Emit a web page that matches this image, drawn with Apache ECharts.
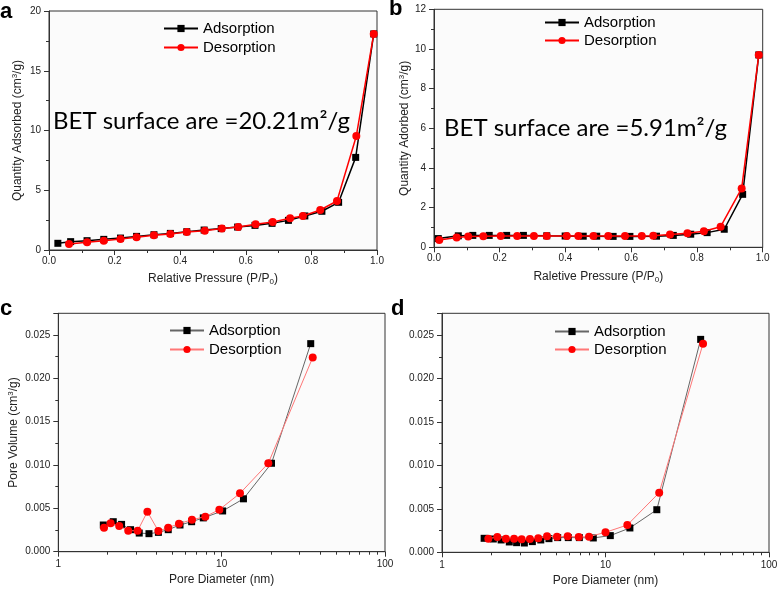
<!DOCTYPE html>
<html><head><meta charset="utf-8">
<script src="https://cdn.jsdelivr.net/npm/echarts@6/dist/echarts.min.js"></script>
<style>html,body{margin:0;padding:0;background:#fff}#c{width:778px;height:592px}</style>
</head><body><div id="c"></div>
<script>
// Panel a: BET isotherm (sample 1)
const aAdsX = [0.027,0.066,0.116,0.167,0.218,0.267,0.32,0.37,0.42,0.473,0.525,0.575,0.628,0.68,0.73,0.78,0.832,0.883,0.935,0.99];
const aAdsY = [0.56,0.70,0.78,0.89,1.00,1.14,1.28,1.39,1.53,1.67,1.79,1.92,2.06,2.23,2.48,2.85,3.24,3.99,7.75,18.08];
const aDesX = [0.061,0.116,0.167,0.218,0.267,0.32,0.37,0.42,0.475,0.527,0.577,0.63,0.682,0.735,0.774,0.827,0.878,0.937,0.99];
const aDesY = [0.50,0.64,0.78,0.92,1.06,1.23,1.34,1.51,1.62,1.79,1.92,2.15,2.34,2.65,2.85,3.35,4.10,9.54,18.08];
// Panel b: BET isotherm (sample 2)
const bAdsX = [0.013,0.074,0.118,0.168,0.221,0.272,0.343,0.399,0.454,0.495,0.545,0.596,0.677,0.728,0.781,0.831,0.883,0.939,0.988];
const bAdsY = [0.44,0.58,0.60,0.60,0.60,0.60,0.58,0.57,0.56,0.56,0.55,0.55,0.56,0.60,0.66,0.74,0.91,2.67,9.70];
const bDesX = [0.016,0.069,0.104,0.15,0.203,0.253,0.304,0.343,0.404,0.439,0.485,0.53,0.581,0.632,0.667,0.718,0.771,0.821,0.872,0.936,0.988];
const bDesY = [0.37,0.50,0.54,0.56,0.57,0.57,0.57,0.57,0.57,0.57,0.57,0.57,0.57,0.57,0.58,0.64,0.71,0.81,1.04,2.97,9.70];
// Panel c: pore size distribution (sample 1)
const cAdsX = [1.886,2.17,2.44,2.77,3.13,3.59,4.1,4.71,5.56,6.55,7.72,10.14,13.6,20.2,35.1];
const cAdsY = [0.00308,0.00346,0.00315,0.00254,0.00215,0.00208,0.00223,0.00254,0.00308,0.00346,0.0039,0.0047,0.0061,0.0102,0.0240];
const cDesX = [1.905,2.09,2.36,2.68,3.06,3.51,4.1,4.71,5.48,6.58,7.94,9.68,12.95,19.3,36.1];
const cDesY = [0.00277,0.00327,0.00296,0.00242,0.00242,0.00462,0.00238,0.00277,0.00323,0.00369,0.00404,0.00485,0.00673,0.0102,0.0224];
// Panel d: pore size distribution (sample 2)
const dAdsX = [1.81,2.06,2.30,2.58,2.86,3.19,3.57,4.02,4.51,5.1,5.92,6.92,8.42,10.7,14.1,20.6,38.2];
const dAdsY = [0.00161,0.00153,0.00142,0.00119,0.00111,0.00107,0.00123,0.00142,0.00157,0.00169,0.00169,0.00169,0.00165,0.00192,0.0028,0.0049,0.0245];
const dDesX = [1.92,2.18,2.46,2.76,3.07,3.45,3.88,4.39,5.05,5.87,6.86,7.93,10.0,13.6,21.3,39.5];
const dDesY = [0.00157,0.00176,0.00157,0.00157,0.0015,0.00153,0.00161,0.00184,0.0018,0.00184,0.00176,0.0018,0.0023,0.00314,0.00686,0.0240];
// Tick labels / texts
const panelLetters = ['a','b','c','d'];
const betTexts = ['BET surface are =20.21m²/g','BET surface are =5.91m²/g'];
const logMinorTicks = [2,3,4,5,6,7,8,9,20,30,40,50,60,70,80,90];

const FONT = '"Liberation Sans", Arial, sans-serif';
const zip = (xs, ys) => xs.map((x, i) => [x, ys[i]]);

const grids = [
  {left: 49, top: 11, width: 328, height: 239},
  {left: 434, top: 9.3, width: 328.7, height: 238},
  {left: 58.3, top: 313.3, width: 326.7, height: 238.4},
  {left: 442, top: 313.3, width: 327, height: 239}
].map(g => Object.assign(g, {show: true, borderColor: '#333', borderWidth: 1, backgroundColor: '#fbfbfb', containLabel: false, outerBoundsMode: 'none'}));

const lbl = {fontSize: 10, color: '#222', fontFamily: FONT};
const tick = {show: true, inside: false, length: 5, lineStyle: {color: '#333'}};
const minor = {show: true, splitNumber: 2, length: 3, lineStyle: {color: '#333'}};
const axLine = {show: true, lineStyle: {color: '#333', width: 1}};
const nameRich = {
  t: {fontSize: 12, fontFamily: FONT, color: '#222'},
  sub: {fontSize: 8, fontFamily: FONT, color: '#222', verticalAlign: 'bottom', padding: [6, 0, 0, 0]},
  sup: {fontSize: 8, fontFamily: FONT, color: '#222', verticalAlign: 'top', padding: [0, 0, 6, 0]}
};

function valX(gi, name) {
  return {type: 'value', gridIndex: gi, min: 0, max: 1, interval: 0.2, position: 'bottom',
    name: name, nameLocation: 'middle', nameGap: 22, nameTextStyle: {rich: nameRich},
    axisLine: axLine, axisTick: tick, minorTick: minor, splitLine: {show: false}, minorSplitLine: {show: false},
    axisLabel: Object.assign({margin: 6, formatter: v => v.toFixed(1)}, lbl)};
}
function logX(gi, name) {
  return {type: 'log', logBase: 10, gridIndex: gi, min: 1, max: 100, position: 'bottom',
    name: name, nameLocation: 'middle', nameGap: 22, nameTextStyle: {rich: nameRich},
    axisLine: axLine, axisTick: tick, splitLine: {show: false},
    axisLabel: Object.assign({margin: 8}, lbl)};
}
function logXMinor(gi) {
  return {type: 'log', logBase: 10, gridIndex: gi, min: 1, max: 100, position: 'bottom',
    axisLine: {show: false}, splitLine: {show: false}, axisLabel: {show: false},
    axisTick: {show: true, inside: false, length: 3, customValues: logMinorTicks, lineStyle: {color: '#333'}}};
}
function valY(gi, max, interval, name, gap, fmt) {
  return {type: 'value', gridIndex: gi, min: 0, max: max, interval: interval,
    name: name, nameLocation: 'middle', nameGap: gap, nameTextStyle: {rich: nameRich},
    axisLine: axLine, axisTick: tick, minorTick: minor, splitLine: {show: false}, minorSplitLine: {show: false},
    axisLabel: Object.assign({margin: 8, showMaxLabel: fmt ? false : true, formatter: fmt || (v => String(v))}, lbl)};
}

const xAxis = [
  valX(0, '{t|Relative Pressure (P/P}{sub|0}{t|)}'),
  valX(1, '{t|Raletive Pressure (P/P}{sub|0}{t|)}'),
  logX(2, '{t|Pore Diameter (nm)}'),
  logX(3, '{t|Pore Diameter (nm)}'),
  logXMinor(2),
  logXMinor(3)
];
const f3 = v => v.toFixed(3);
const yAxis = [
  valY(0, 20, 5, '{t|Quantity Adsorbed (cm}{sup|3}{t|/g)}', 24),
  valY(1, 12, 2, '{t|Quantity Adorbed (cm}{sup|3}{t|/g)}', 22),
  valY(2, 0.0275, 0.005, '{t|Pore Volume (cm}{sup|3}{t|/g)}', 38, f3),
  valY(3, 0.0275, 0.005, '', 38, f3)
];

function ser(name, gi, data, isAds, thin) {
  return {
    name: name, type: 'line', xAxisIndex: gi, yAxisIndex: gi, data: data,
    symbol: isAds ? 'rect' : 'circle', symbolSize: isAds ? 7 : 8,
    itemStyle: {color: isAds ? '#000' : '#ff0000'},
    lineStyle: {width: thin ? 1 : 1.5, color: thin ? (isAds ? '#666' : '#ff7777') : (isAds ? '#000' : '#ff0000')},
    z: isAds ? 2 : 3, animation: false
  };
}
const series = [
  ser('Adsorption_a', 0, zip(aAdsX, aAdsY), true, false),
  ser('Desorption_a', 0, zip(aDesX, aDesY), false, false),
  ser('Adsorption_b', 1, zip(bAdsX, bAdsY), true, false),
  ser('Desorption_b', 1, zip(bDesX, bDesY), false, false),
  ser('Adsorption_c', 2, zip(cAdsX, cAdsY), true, true),
  ser('Desorption_c', 2, zip(cDesX, cDesY), false, true),
  ser('Adsorption_d', 3, zip(dAdsX, dAdsY), true, true),
  ser('Desorption_d', 3, zip(dDesX, dDesY), false, true)
];

function leg(suffix, left, top, gap) {
  return {show: true, orient: 'vertical', left: left, top: top, itemGap: gap, itemWidth: 34, itemHeight: 9,
    data: ['Adsorption_' + suffix, 'Desorption_' + suffix], selectedMode: false,
    formatter: n => n.split('_')[0],
    textStyle: {fontSize: 15, fontFamily: FONT, color: '#000'}};
}
const legend = [leg('a', 158, 16, 4), leg('b', 539, 10, 3), leg('c', 164, 318, 4), leg('d', 549, 319, 3)];

const letterPos = [[0, 1], [389, -2], [0, 298], [391, 298]];
const graphic = panelLetters.map((t, i) => ({type: 'text', left: letterPos[i][0], top: letterPos[i][1],
  style: {text: t, font: 'bold 22px ' + FONT, fill: '#000'}}))
  .concat([
    {type: 'text', left: 53, top: 109, style: {text: betTexts[0], font: '24px Lato, "Open Sans", sans-serif', fill: '#000'}},
    {type: 'text', left: 444, top: 116, style: {text: betTexts[1], font: '24px Lato, "Open Sans", sans-serif', fill: '#000'}}
  ]);

const chart = echarts.init(document.getElementById('c'), null, {renderer: 'canvas'});
chart.setOption({backgroundColor: '#fff', animation: false, grid: grids, xAxis: xAxis, yAxis: yAxis, series: series, legend: legend, graphic: graphic});
</script></body></html>
